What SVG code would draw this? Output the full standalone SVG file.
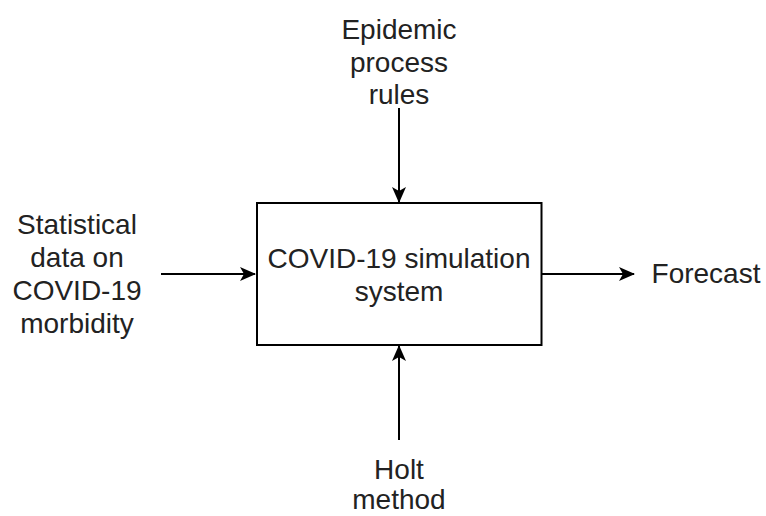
<svg xmlns="http://www.w3.org/2000/svg" width="766" height="516" viewBox="0 0 766 516">
<style>
text{font-family:"Liberation Sans",Arial,sans-serif;font-size:28px;fill:#222;text-anchor:middle}
.ln{stroke:#000;stroke-width:2;fill:none}
</style>
<defs>
<marker id="ah" viewBox="0 0 16 14" refX="15" refY="7" markerWidth="16" markerHeight="14" markerUnits="userSpaceOnUse" orient="auto">
<path d="M0,0 L16,7 L0,14 L4,7 Z" fill="#000"/>
</marker>
</defs>
<rect width="766" height="516" fill="#fff"/>
<g id="connectors">
<line class="ln" x1="399" y1="108" x2="399" y2="202" marker-end="url(#ah)"/>
<line class="ln" x1="399" y1="440" x2="399" y2="346" marker-end="url(#ah)"/>
<line class="ln" x1="161" y1="274" x2="255" y2="274" marker-end="url(#ah)"/>
<line class="ln" x1="542" y1="274" x2="634" y2="274" marker-end="url(#ah)"/>
</g>
<g id="system">
<rect x="257" y="203" width="284.5" height="142" fill="#fff" stroke="#000" stroke-width="2"/>
<text x="399" y="268">COVID-19 simulation</text>
<text x="399" y="301">system</text>
</g>
<g id="rules">
<text x="399" y="39">Epidemic</text>
<text x="399" y="72">process</text>
<text x="399" y="104">rules</text>
</g>
<g id="data">
<text x="77" y="234">Statistical</text>
<text x="77" y="267">data on</text>
<text x="77" y="300">COVID-19</text>
<text x="77" y="333">morbidity</text>
</g>
<g id="holt">
<text x="399" y="479">Holt</text>
<text x="399" y="509">method</text>
</g>
<g id="forecast">
<text x="706" y="283">Forecast</text>
</g>
</svg>
